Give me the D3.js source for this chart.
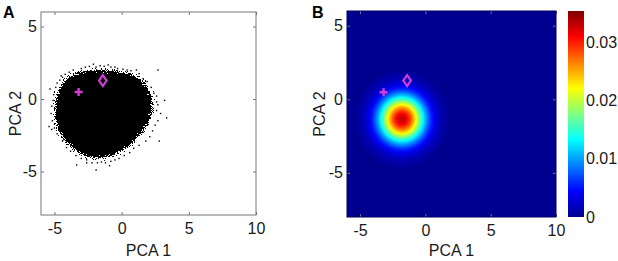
<!DOCTYPE html>
<html>
<head>
<meta charset="utf-8">
<script src="https://cdn.jsdelivr.net/npm/d3@7"></script>
<style>
  body { margin: 0; background: #fff; }
  svg { display: block; font-family: "Liberation Sans", Arial, sans-serif; }
  .axis text { font-size: 16px; fill: #1a1a1a; }
  .axis path { display: none; }
</style>
</head>
<body>
<div id="chart"></div>
<script>
// ---- data ----
const xTicks = [-5, 0, 5, 10];
const yTicks = [-5, 0, 5];
const colorTicks = [0, 0.01, 0.02, 0.03];

// dense core of the PCA cloud (outline, PCA units)
const coreX = [-3.9, -3.4, -2.6, -1.8, -1.0, -0.2, 0.6, 1.2, 1.7, 2.0, 2.2, 2.25, 2.15, 1.95, 1.55, 1.0, 0.3, -0.5, -1.3, -2.1, -2.8, -3.4, -4.0, -4.5, -4.8, -4.9, -4.9, -4.7, -4.4];
const coreY = [1.45, 1.8, 1.9, 1.95, 1.95, 1.85, 1.7, 1.45, 1.05, 0.6, 0.0, -0.5, -1.1, -1.6, -2.2, -2.8, -3.35, -3.8, -4.0, -4.05, -3.85, -3.5, -3.05, -2.45, -1.8, -1.0, -0.3, 0.4, 1.0];

// sparse points around the edge of the cloud
const haloX = [-3.0, -2.7, -2.4, -2.1, -1.9, -1.6, -1.3, -1.0, -0.8, -0.5, -0.3, 0.1, 0.4, 0.7, 1.1, 1.3, 1.6, 2.7,
  1.9, 2.2, 2.4, 2.6, 2.6, 2.7, 3.2, 2.6, 2.9, 3.35, 2.7, 2.5, 2.3, 2.8, 2.1, 1.8,
  1.3, 0.9, 0.6, 0.2, -0.2, -0.5, -0.9, -0.8, -1.2, -1.5, -1.9, -1.8, -2.2, -2.6, -2.6, -3.0, -3.35, -3.4, -3.8, -4.1, -4.4, -4.3,
  -4.8, -5.0, -5.2, -5.4, -5.15, -5.25, -5.2, -5.1, -5.05, -5.33, -4.9, -4.8, -4.6, -4.4, -4.2, -3.9, -3.6, -4.5];
const haloY = [2.1, 2.2, 2.25, 2.4, 2.2, 2.3, 2.25, 2.35, 2.2, 2.2, 2.1, 2.05, 2.0, 1.95, 2.0, 1.75, 1.4, 2.0,
  1.2, 0.8, 0.4, 0.2, -0.2, -0.4, -0.1, -0.8, -1.0, -1.3, -1.5, -1.8, -2.2, -2.9, -2.6, -2.9,
  -3.2, -3.4, -3.7, -3.9, -4.1, -4.2, -4.6, -4.3, -4.4, -4.35, -4.9, -4.4, -4.4, -4.4, -4.2, -4.1, -4.55, -3.9, -3.6, -3.35, -2.9, -2.8,
  -2.4, -2.0, -2.1, -1.9, -1.5, -1.0, -0.5, -0.1, 0.3, 0.69, 0.8, 1.1, 1.3, 1.5, 1.7, 1.85, 2.0, 1.6];

// highlighted samples
const markerNames = ['plus', 'diamond'];
const markerX = [-3.2, -1.4];
const markerY = [0.48, 1.27];

// panel B: density peak and value along a radius (fraction of the glow extent)
const peakX = -1.8, peakY = -1.35;
const glowX = 3.6, glowY = 3.3;
const profileR = [0, 0.05, 0.1, 0.15, 0.2, 0.25, 0.3, 0.35, 0.4, 0.45, 0.5, 0.55, 0.6, 0.65, 0.7, 0.75, 0.8, 0.85, 0.9, 0.95, 1];
const profileV = [0.0330, 0.0326, 0.0316, 0.0298, 0.0276, 0.0249, 0.0220, 0.0190, 0.0161, 0.0133, 0.0107, 0.0085, 0.0065, 0.0049, 0.0036, 0.0026, 0.0019, 0.0013, 0.0009, 0.0006, 0.0004];
const colorMax = 0.0354;

// ---- drawing ----
const W = 618, H = 261;
const MAGENTA = '#d23cd6';
const BOX = '#777';

const svg = d3.select('#chart').append('svg')
  .attr('width', W).attr('height', H);

const defs = svg.append('defs');

// speckled fringe for the dense cloud: blurred alpha + noise, then thresholded
const speckle = defs.append('filter').attr('id', 'speckle')
  .attr('x', '-20%').attr('y', '-20%').attr('width', '140%').attr('height', '140%');
speckle.append('feGaussianBlur').attr('in', 'SourceAlpha').attr('stdDeviation', 5).attr('result', 'blur');
speckle.append('feTurbulence').attr('type', 'fractalNoise').attr('baseFrequency', 0.9)
  .attr('numOctaves', 1).attr('seed', 7).attr('result', 'noise');
speckle.append('feColorMatrix').attr('in', 'noise').attr('type', 'matrix')
  .attr('values', '0 0 0 0 0  0 0 0 0 0  0 0 0 0 0  1 0 0 0 0').attr('result', 'na');
speckle.append('feComposite').attr('in', 'blur').attr('in2', 'na').attr('operator', 'arithmetic')
  .attr('k1', 0).attr('k2', 0.9).attr('k3', 1).attr('k4', -0.4).attr('result', 'sum');
speckle.append('feComponentTransfer').attr('in', 'sum')
  .append('feFuncA').attr('type', 'discrete').attr('tableValues', '0 1');

const jetT = [0, 1 / 8, 3 / 8, 5 / 8, 7 / 8, 1];
const jetC = ['#00008f', '#0000ff', '#00ffff', '#ffff00', '#ff0000', '#800000'];
const jet = d3.scaleLinear()
  .domain(jetT.map(t => t * colorMax))
  .range(jetC)
  .clamp(true);

function frame(g, x, y, labelLeft) {
  // mirrored inward ticks, MATLAB style
  g.append('g').attr('class', 'axis')
    .attr('transform', `translate(0,${y.range()[0]})`)
    .call(d3.axisBottom(x).tickValues(xTicks).tickSize(-3).tickSizeOuter(0).tickPadding(8).tickFormat(d => String(d)));
  g.append('g').attr('class', 'axis')
    .attr('transform', `translate(${x.range()[0]},0)`)
    .call(d3.axisLeft(y).tickValues(yTicks).tickSize(-3).tickSizeOuter(0).tickPadding(4).tickFormat(d => String(d)));
  g.append('g').attr('class', 'axis')
    .attr('transform', `translate(0,${y.range()[1]})`)
    .call(d3.axisTop(x).tickValues(xTicks).tickSize(-3).tickSizeOuter(0).tickFormat(''));
  g.append('g').attr('class', 'axis')
    .attr('transform', `translate(${x.range()[1]},0)`)
    .call(d3.axisRight(y).tickValues(yTicks).tickSize(-3).tickSizeOuter(0).tickFormat(''));
  g.selectAll('.tick line').attr('stroke', BOX);

  g.append('rect')
    .attr('class', 'box')
    .attr('x', x.range()[0]).attr('y', y.range()[1])
    .attr('width', x.range()[1] - x.range()[0])
    .attr('height', y.range()[0] - y.range()[1])
    .attr('fill', 'none').attr('stroke', BOX);

  g.append('text')
    .attr('x', (x.range()[0] + x.range()[1]) / 2)
    .attr('y', 256)
    .attr('text-anchor', 'middle')
    .style('font-size', '16px').attr('fill', '#1a1a1a')
    .text('PCA 1');
  g.append('text')
    .attr('transform', `translate(${labelLeft},${(y.range()[0] + y.range()[1]) / 2}) rotate(-90)`)
    .attr('text-anchor', 'middle')
    .style('font-size', '16px').attr('fill', '#1a1a1a')
    .text('PCA 2');
}

function markers(g, x, y) {
  markerNames.forEach((m, i) => {
    const cx = x(markerX[i]), cy = y(markerY[i]);
    if (m === 'plus') {
      g.append('path')
        .attr('d', `M${cx - 4},${cy}H${cx + 4}M${cx},${cy - 4}V${cy + 4}`)
        .attr('stroke', MAGENTA).attr('stroke-width', 2.4).attr('fill', 'none');
    } else {
      g.append('path')
        .attr('d', `M${cx},${cy - 5.5}L${cx + 3.8},${cy}L${cx},${cy + 5.5}L${cx - 3.8},${cy}Z`)
        .attr('stroke', MAGENTA).attr('stroke-width', 2.2).attr('fill', 'none');
    }
  });
}

// ---- panel A: scatter ----
const xA = d3.scaleLinear().domain([-6, 10]).range([41, 256]);
const yA = d3.scaleLinear().domain([-8, 6]).range([215, 12]);
const gA = svg.append('g');

const corePts = coreX.map((d, i) => [d, coreY[i]]);
gA.append('path')
  .datum(corePts)
  .attr('d', d3.line().x(d => xA(d[0])).y(d => yA(d[1])).curve(d3.curveCatmullRomClosed))
  .attr('fill', '#000')
  .attr('filter', 'url(#speckle)');

gA.selectAll('rect.dot')
  .data(haloX.map((d, i) => [d, haloY[i]]))
  .enter().append('rect')
  .attr('class', 'dot')
  .attr('x', d => xA(d[0]) - 0.7)
  .attr('y', d => yA(d[1]) - 0.7)
  .attr('width', 1.4).attr('height', 1.4)
  .attr('fill', '#000');

markers(gA, xA, yA);
frame(gA, xA, yA, 21);
gA.append('text').attr('x', 3).attr('y', 18)
  .style('font-size', '16px').style('font-weight', 'bold').text('A');

// ---- panel B: density ----
const xB = d3.scaleLinear().domain([-6, 10]).range([347, 556]);
const yB = d3.scaleLinear().domain([-8, 6]).range([217, 11]);
const gB = svg.append('g');

gB.append('rect')
  .attr('x', xB(-6)).attr('y', yB(6))
  .attr('width', xB(10) - xB(-6)).attr('height', yB(-8) - yB(6))
  .attr('fill', jet(0));

const glow = defs.append('radialGradient').attr('id', 'glow');
glow.selectAll('stop')
  .data(profileR)
  .enter().append('stop')
  .attr('offset', d => d)
  .attr('stop-color', (d, i) => jet(profileV[i]));

gB.append('ellipse')
  .attr('cx', xB(peakX)).attr('cy', yB(peakY))
  .attr('rx', xB(peakX + glowX) - xB(peakX))
  .attr('ry', yB(peakY - glowY) - yB(peakY))
  .attr('fill', 'url(#glow)');

markers(gB, xB, yB);
frame(gB, xB, yB, 325);
gB.select('rect.box').attr('stroke', '#000060');
gB.append('text').attr('x', 312).attr('y', 18)
  .style('font-size', '16px').style('font-weight', 'bold').text('B');

// ---- colorbar ----
const yC = d3.scaleLinear().domain([0, colorMax]).range([217, 11]);
const cb = defs.append('linearGradient').attr('id', 'cbar')
  .attr('x1', 0).attr('y1', 1).attr('x2', 0).attr('y2', 0);
cb.selectAll('stop')
  .data(jetT)
  .enter().append('stop')
  .attr('offset', d => d)
  .attr('stop-color', (d, i) => jetC[i]);

svg.append('rect')
  .attr('x', 568).attr('y', yC(colorMax))
  .attr('width', 16).attr('height', yC(0) - yC(colorMax))
  .attr('fill', 'url(#cbar)');

svg.append('g').attr('class', 'axis')
  .attr('transform', 'translate(584,0)')
  .call(d3.axisRight(yC).tickValues(colorTicks).tickSize(0).tickPadding(2)
    .tickFormat(d => d === 0 ? '0' : d.toFixed(2)));
</script>
</body>
</html>
